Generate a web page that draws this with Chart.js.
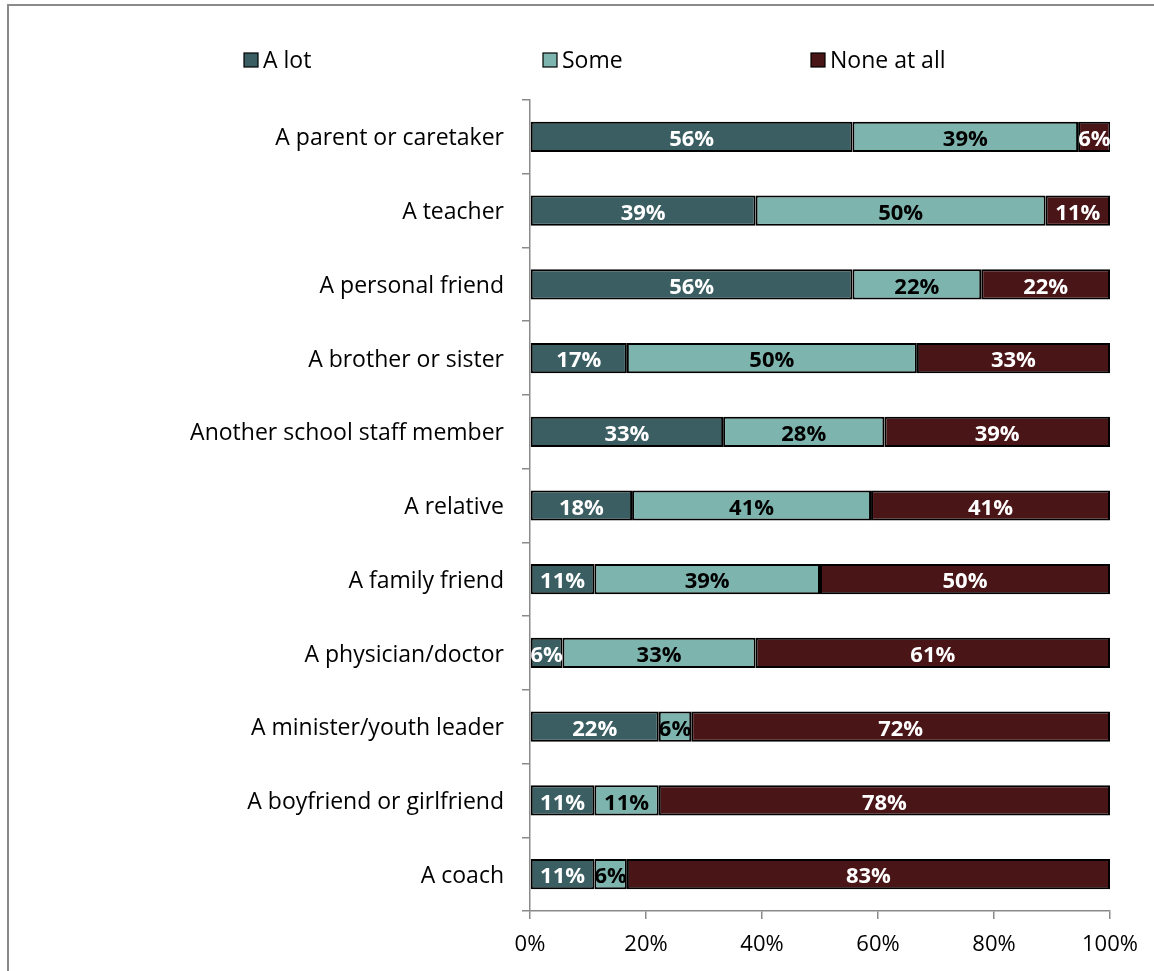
<!DOCTYPE html>
<html>
<head>
<meta charset="utf-8">
<script src="https://cdn.jsdelivr.net/npm/chart.js@4/dist/chart.umd.min.js"></script>
<style>
  html, body { margin: 0; padding: 0; background: #fff; }
  #wrap { position: relative; width: 1154px; height: 971px; overflow: hidden; }
  #frame { position: absolute; left: 7px; top: 4px; width: 1200px; height: 1200px; border-left: 2px solid #8a8a8a; border-top: 2px solid #8a8a8a; box-sizing: border-box; pointer-events: none; }
  canvas { position: absolute; left: 0; top: 0; }
</style>
</head>
<body>
<div id="wrap">
<canvas id="c" width="1154" height="971"></canvas>
<div id="frame"></div>
</div>
<script>
const categories = [
  "A parent or caretaker",
  "A teacher",
  "A personal friend",
  "A brother or sister",
  "Another school staff member",
  "A relative",
  "A family friend",
  "A physician/doctor",
  "A minister/youth leader",
  "A boyfriend or girlfriend",
  "A coach"
];
const seriesNames = ["A lot", "Some", "None at all"];
const aLot      = [55.6, 38.9, 55.6, 16.7, 33.3, 17.6, 11.1,  5.6, 22.2, 11.1, 11.1];
const some      = [38.9, 50.0, 22.2, 50.0, 27.8, 41.2, 38.9, 33.3,  5.6, 11.1,  5.6];
const noneAtAll = [ 5.6, 11.1, 22.2, 33.3, 38.9, 41.2, 50.0, 61.1, 72.2, 77.8, 83.3];
const xTicks = [0, 20, 40, 60, 80, 100];

const colors = ["#3b5e62", "#7db4ad", "#4a1517"];
const labelColors = ["#ffffff", "#000000", "#ffffff"];
const FONT = "'Open Sans', Lato, sans-serif";

const labelPlugin = {
  id: "barLabels",
  afterDatasetsDraw(chart) {
    const ctx = chart.ctx;
    ctx.save();
    ctx.font = "bold 22px " + FONT;
    ctx.textAlign = "center";
    ctx.textBaseline = "middle";
    chart.data.datasets.forEach((ds, di) => {
      const meta = chart.getDatasetMeta(di);
      meta.data.forEach((bar, i) => {
        const v = ds.data[i];
        const cx = (bar.x + bar.base) / 2;
        ctx.fillStyle = labelColors[di];
        ctx.fillText(Math.round(v) + "%", cx, bar.y + 3);
      });
    });
    ctx.restore();
  }
};

const legendPlugin = {
  id: "customLegend",
  afterDraw(chart) {
    const ctx = chart.ctx;
    const xs = [244, 543, 811];
    const y = 60;
    ctx.save();
    ctx.font = "23px " + FONT;
    ctx.textBaseline = "middle";
    ctx.textAlign = "left";
    seriesNames.forEach((n, i) => {
      ctx.fillStyle = colors[i];
      ctx.fillRect(xs[i], y - 7, 14, 14);
      ctx.strokeStyle = "#000";
      ctx.lineWidth = 1.2;
      ctx.strokeRect(xs[i], y - 7, 14, 14);
      ctx.fillStyle = "#000";
      ctx.fillText(n, xs[i] + 19, y + 1);
    });
    ctx.restore();
  }
};

new Chart(document.getElementById("c"), {
  type: "bar",
  data: {
    labels: categories,
    datasets: [
      { label: seriesNames[0], data: aLot },
      { label: seriesNames[1], data: some },
      { label: seriesNames[2], data: noneAtAll }
    ].map((d, i) => Object.assign(d, {
      backgroundColor: colors[i],
      borderColor: "#000",
      borderWidth: 2,
      borderSkipped: false,
      barPercentage: 0.41,
      categoryPercentage: 1.0
    }))
  },
  options: {
    indexAxis: "y",
    responsive: false,
    animation: false,
    devicePixelRatio: 1,
    layout: { padding: { top: 100, right: 44, left: 8, bottom: 0 } },
    plugins: { legend: { display: false }, tooltip: { enabled: false } },
    scales: {
      x: {
        stacked: true,
        min: 0, max: 100,
        afterBuildTicks(s) { s.ticks = xTicks.map(v => ({ value: v })); },
        ticks: { callback: v => v + "%", color: "#000", font: { family: FONT, size: 22 }, padding: 13, maxRotation: 0 },
        grid: { drawOnChartArea: false, tickLength: 8, color: "#8a8a8a", lineWidth: 1.5 },
        border: { color: "#8a8a8a", width: 1.5 },
        afterFit(s) { s.height = 60; }
      },
      y: {
        stacked: true,
        offset: true,
        ticks: { color: "#000", font: { family: FONT, size: 23 }, padding: 18, labelOffset: 2 },
        grid: { drawOnChartArea: false, offset: true, tickLength: 8, color: "#8a8a8a", lineWidth: 1.5 },
        border: { color: "#8a8a8a", width: 1.5 },
        afterFit(s) { s.width = 522; }
      }
    }
  },
  plugins: [labelPlugin, legendPlugin]
});
</script>
</body>
</html>
